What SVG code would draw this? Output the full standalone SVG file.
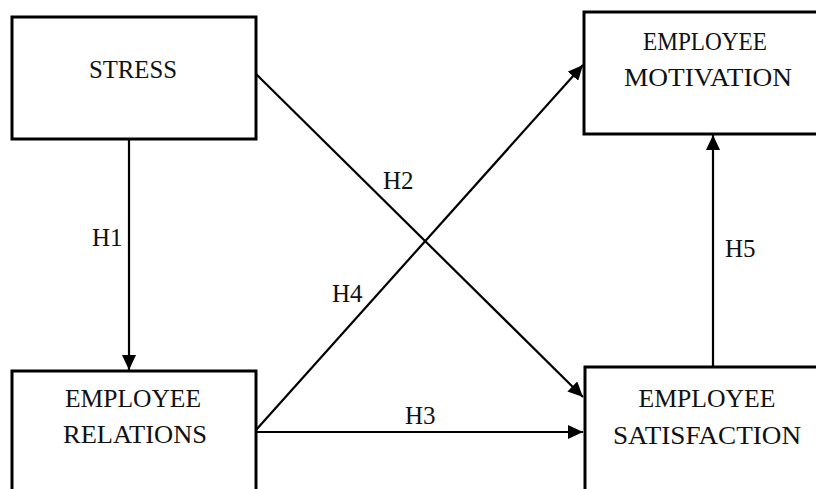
<svg xmlns="http://www.w3.org/2000/svg" width="816" height="489" viewBox="0 0 816 489">
<defs>
<style>
.box{fill:#fff;stroke:#000;stroke-width:3}
.t{font-size:25px;fill:#111;text-anchor:middle}
.lbl{font-size:25px;fill:#111}
.c{stroke:#000;stroke-width:2.2;fill:none;marker-end:url(#ah)}
</style>
<marker id="ah" markerUnits="userSpaceOnUse" markerWidth="16" markerHeight="14" refX="15" refY="7" orient="auto">
<path d="M0,0 L15,7 L0,14 Z" fill="#000"/>
</marker>
</defs>
<rect width="816" height="489" fill="#fff"/>
<g font-family="'Liberation Serif', 'DejaVu Serif', serif">
<g id="stress">
<rect class="box" x="12" y="17" width="244" height="122"/>
<text class="t" x="133" y="78" textLength="88" lengthAdjust="spacingAndGlyphs">STRESS</text>
</g>
<g id="motivation">
<rect class="box" x="584" y="12" width="240" height="122"/>
<text class="t" x="705" y="50" textLength="124" lengthAdjust="spacingAndGlyphs">EMPLOYEE</text>
<text class="t" x="708" y="86" textLength="168" lengthAdjust="spacingAndGlyphs">MOTIVATION</text>
</g>
<g id="relations">
<rect class="box" x="12" y="371" width="244" height="130"/>
<text class="t" x="133" y="407" textLength="136" lengthAdjust="spacingAndGlyphs">EMPLOYEE</text>
<text class="t" x="135" y="443" textLength="144" lengthAdjust="spacingAndGlyphs">RELATIONS</text>
</g>
<g id="satisfaction">
<rect class="box" x="585" y="367" width="240" height="130"/>
<text class="t" x="707" y="407" textLength="137" lengthAdjust="spacingAndGlyphs">EMPLOYEE</text>
<text class="t" x="707" y="444" textLength="188" lengthAdjust="spacingAndGlyphs">SATISFACTION</text>
</g>
<g id="connectors">
<line class="c" x1="129" y1="139" x2="129" y2="370"/>
<line class="c" x1="256" y1="74" x2="583" y2="397"/>
<line class="c" x1="256" y1="432" x2="583" y2="432"/>
<line class="c" x1="256" y1="430" x2="583" y2="65"/>
<line class="c" x1="713" y1="367" x2="713" y2="135"/>
<text class="lbl" x="92" y="246">H1</text>
<text class="lbl" x="383" y="189">H2</text>
<text class="lbl" x="405" y="424">H3</text>
<text class="lbl" x="332" y="302">H4</text>
<text class="lbl" x="725" y="257">H5</text>
</g>
</g>
</svg>
